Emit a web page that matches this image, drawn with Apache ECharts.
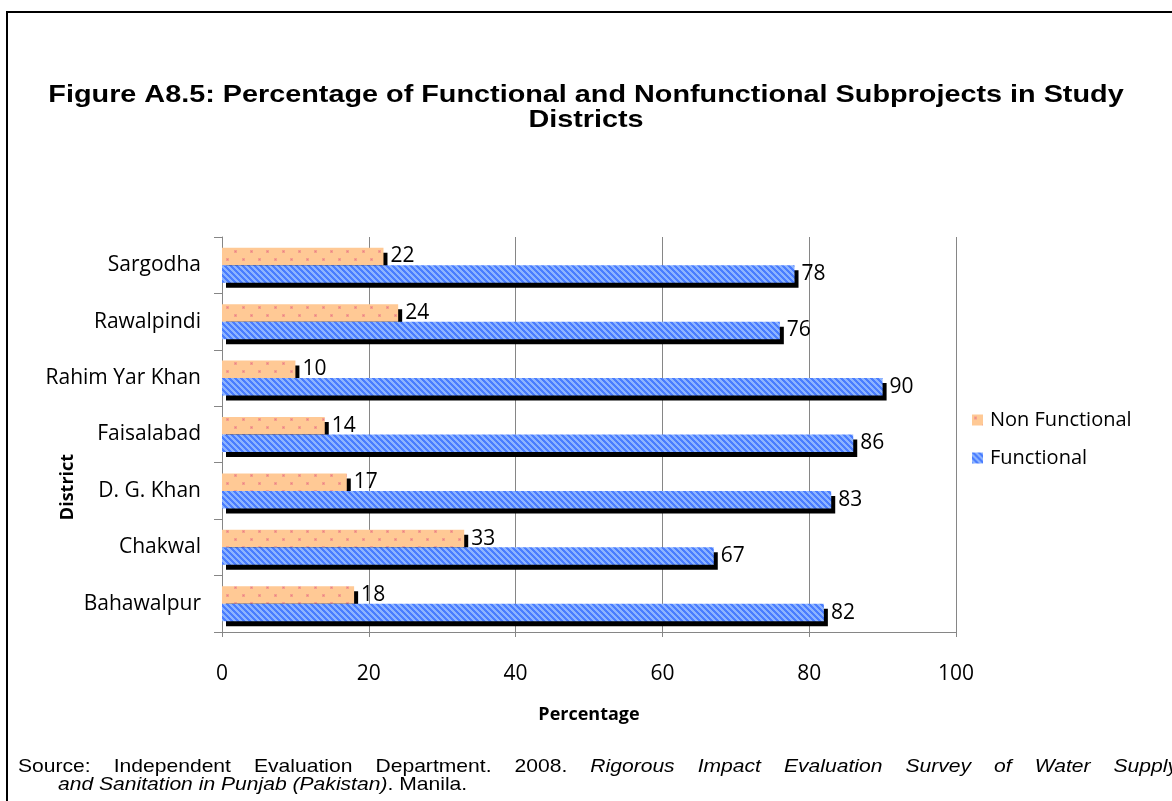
<!DOCTYPE html>
<html>
<head>
<meta charset="utf-8">
<script src="https://cdn.jsdelivr.net/npm/echarts@6/dist/echarts.min.js"></script>
<style>
  html, body { margin: 0; padding: 0; background: #ffffff; }
  #chart { width: 1172px; height: 801px; }
</style>
</head>
<body>
<div id="chart"></div>
<script>
// Districts, listed bottom to top as they appear on the category axis
const districts = ['Bahawalpur', 'Chakwal', 'D. G. Khan', 'Faisalabad', 'Rahim Yar Khan', 'Rawalpindi', 'Sargodha'];
// Share of subprojects (%) per district
const nonFunctional = [18, 33, 17, 14, 10, 24, 22];
const functional = [82, 67, 83, 86, 90, 76, 78];
// Percentage axis ticks
const xTicks = [0, 20, 40, 60, 80, 100];

const seriesNames = ['Non Functional', 'Functional'];
const titleText = 'Figure A8.5: Percentage of Functional and Nonfunctional Subprojects in Study\nDistricts';

// Source note: first line is justified across the page, second line is left aligned
const sourceLine1 = [
  ['Source:', false], ['Independent', false], ['Evaluation', false], ['Department.', false], ['2008.', false],
  ['Rigorous', true], ['Impact', true], ['Evaluation', true], ['Survey', true], ['of', true], ['Water', true], ['Supply', true]
];
const sourceLine2 = '{i|and Sanitation in Punjab (Pakistan)}{n|. Manila.}';

// Peach fill with small staggered pink dots
function dotTile() {
  const c = document.createElement('canvas');
  c.width = 16; c.height = 16;
  const g = c.getContext('2d');
  g.fillStyle = '#FFC995';
  g.fillRect(0, 0, 16, 16);
  g.fillStyle = '#F4A08E';
  g.fillRect(2, 2, 3, 3);
  g.fillRect(10, 10, 3, 3);
  g.fillStyle = '#EE8080';
  g.fillRect(3, 3, 1, 1);
  g.fillRect(11, 11, 1, 1);
  return c;
}

// Two-tone blue diagonal stripes running top-left to bottom-right
function stripeTile() {
  const n = 6;
  const c = document.createElement('canvas');
  c.width = n; c.height = n;
  const g = c.getContext('2d');
  for (let y = 0; y < n; y++) {
    for (let x = 0; x < n; x++) {
      const k = (((x - y) % n) + n) % n;
      g.fillStyle = k < 3 ? '#4A7DFF' : '#8DB4FF';
      g.fillRect(x, y, 1, 1);
    }
  }
  return c;
}

const dotFill = { image: dotTile(), repeat: 'repeat' };
const stripeFill = { image: stripeTile(), repeat: 'repeat' };

const labelFont = "'Open Sans', 'Noto Sans', sans-serif";
const arialFont = "'Liberation Sans', Arial, sans-serif";
const noteSize = 18.5;
const wideScale = 1.14;   // page text is set slightly extended
const titleScale = 1.2;
const gray = '#868686';

// Lay out the justified first line of the source note word by word
function justifiedWords(words, x0, x1, y) {
  const ctx = document.createElement('canvas').getContext('2d');
  const widths = words.map(([w, it]) => {
    ctx.font = (it ? 'italic ' : '') + noteSize + 'px ' + arialFont;
    return ctx.measureText(w).width * wideScale;
  });
  const total = widths.reduce((a, b) => a + b, 0);
  const gap = (x1 - x0 - total) / (words.length - 1);
  const out = [];
  let x = x0;
  words.forEach(([w, it], i) => {
    out.push({
      type: 'text', x: x, y: y, scaleX: wideScale, silent: true,
      style: {
        text: w, fontFamily: arialFont, fontSize: noteSize,
        fontStyle: it ? 'italic' : 'normal', fill: '#000000', verticalAlign: 'middle'
      }
    });
    x += widths[i] + gap;
  });
  return out;
}

const chart = echarts.init(document.getElementById('chart'), null, { renderer: 'canvas' });

function barSeries(name, data, fill) {
  return {
    name: name,
    type: 'bar',
    data: data,
    barWidth: 17.5,
    barGap: '0%',
    itemStyle: {
      color: fill,
      shadowColor: '#000000',
      shadowBlur: 0,
      shadowOffsetX: 4,
      shadowOffsetY: 5
    },
    label: {
      show: true,
      position: 'right',
      distance: 7,
      color: '#000000',
      fontFamily: labelFont,
      fontSize: 21
    },
    emphasis: { disabled: true },
    animation: false
  };
}

chart.setOption({
  animation: false,
  backgroundColor: '#ffffff',
  legend: {
    orient: 'vertical',
    left: 967,
    top: 405,
    itemWidth: 11,
    itemHeight: 11,
    itemGap: 18,
    icon: 'rect',
    data: seriesNames,
    itemStyle: { shadowColor: 'rgba(0,0,0,0)', shadowOffsetX: 0, shadowOffsetY: 0, shadowBlur: 0 },
    textStyle: { fontFamily: labelFont, fontSize: 20, color: '#000000', padding: [0, 0, 0, 2] }
  },
  grid: { left: 222, right: 216, top: 237, bottom: 169, containLabel: false },
  xAxis: {
    type: 'value',
    min: xTicks[0],
    max: xTicks[xTicks.length - 1],
    interval: xTicks[1] - xTicks[0],
    name: 'Percentage',
    nameLocation: 'middle',
    nameGap: 74,
    nameTextStyle: { fontFamily: labelFont, fontWeight: 'bold', fontSize: 18, color: '#000000' },
    axisLine: { show: true, lineStyle: { color: gray, width: 1 } },
    axisTick: { show: true, length: 5, lineStyle: { color: gray } },
    axisLabel: { margin: 32, fontFamily: labelFont, fontSize: 21, color: '#000000' },
    splitLine: { show: true, lineStyle: { color: gray, width: 1 } }
  },
  yAxis: {
    type: 'category',
    data: districts,
    axisLine: { show: true, lineStyle: { color: gray, width: 1 } },
    axisTick: { show: true, length: 8, lineStyle: { color: gray } },
    axisLabel: { margin: 21, fontFamily: labelFont, fontSize: 21, color: '#000000' },
    splitLine: { show: false }
  },
  series: [
    barSeries(seriesNames[0], nonFunctional, dotFill),
    barSeries(seriesNames[1], functional, stripeFill)
  ],
  graphic: [
    { type: 'line', shape: { x1: 7, y1: 12, x2: 1172, y2: 12 }, style: { stroke: '#000', lineWidth: 2 }, silent: true },
    { type: 'line', shape: { x1: 7, y1: 11, x2: 7, y2: 801 }, style: { stroke: '#000', lineWidth: 2 }, silent: true },
    {
      type: 'text',
      x: 586, y: 83,
      scaleX: titleScale,
      silent: true,
      style: {
        text: titleText,
        fontFamily: arialFont, fontWeight: 'bold', fontSize: 24, lineHeight: 25,
        fill: '#000000', align: 'center', verticalAlign: 'top'
      }
    },
    {
      type: 'text',
      x: 68, y: 487,
      rotation: Math.PI / 2,
      silent: true,
      style: {
        text: 'District',
        fontFamily: labelFont, fontWeight: 'bold', fontSize: 18,
        fill: '#000000', align: 'center', verticalAlign: 'middle'
      }
    },
    ...justifiedWords(sourceLine1, 18, 1178, 767),
    {
      type: 'text',
      x: 58, y: 785,
      scaleX: wideScale,
      silent: true,
      style: {
        text: sourceLine2,
        fontFamily: arialFont, fontSize: noteSize,
        fill: '#000000', verticalAlign: 'middle',
        rich: {
          n: { fontFamily: arialFont, fontSize: noteSize, fill: '#000' },
          i: { fontFamily: arialFont, fontSize: noteSize, fontStyle: 'italic', fill: '#000' }
        }
      }
    }
  ]
});
</script>
</body>
</html>
